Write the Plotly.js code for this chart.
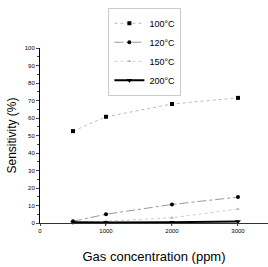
<!DOCTYPE html>
<html><head><meta charset="utf-8">
<script src="https://cdn.plot.ly/plotly-3.0.1.min.js"></script>
<style>html,body{margin:0;padding:0;background:#fff}#c{width:268px;height:267px}</style>
</head><body><div id="c"></div>
<script>
const conc = [500, 1000, 2000, 3000];
const names = ['100°C', '120°C', '150°C', '200°C'];
const s100 = [52.5, 60.7, 68, 71.5];
const s120 = [1, 5, 10.6, 14.8];
const s150 = [0.5, 1, 3, 8];
const s200 = [0.5, 0.3, 0.5, 0.8];
const xTicks = [0, 1000, 2000, 3000];
const yTicks = [0, 10, 20, 30, 40, 50, 60, 70, 80, 90, 100];

const series = [s100, s120, s150, s200];
const styles = [
  {sym: 'square', size: 4, color: '#000', line: {color: '#bbb', width: 1, dash: 'dot'}},
  {sym: 'circle', size: 4, color: '#000', line: {color: '#999', width: 1, dash: 'dashdot'}},
  {sym: 'triangle-up', size: 3, color: '#aaa', line: {color: '#ccc', width: 1, dash: 'dot'}},
  {sym: 'triangle-down', size: 5, color: '#000', line: {color: '#000', width: 2, dash: 'solid'}}
];
const traces = series.map((s, i) => ({
  x: conc, y: s, name: names[i], type: 'scatter', mode: 'lines+markers',
  marker: {symbol: styles[i].sym, size: styles[i].size, color: styles[i].color},
  line: styles[i].line, cliponaxis: false
}));

Plotly.newPlot('c', traces, {
  width: 268, height: 267,
  margin: {l: 40, r: 0, t: 48, b: 44},
  paper_bgcolor: '#fff', plot_bgcolor: '#fff',
  font: {family: 'Liberation Sans, Arial, sans-serif', color: '#000'},
  showlegend: true,
  legend: {x: 0.3, xanchor: 'left', y: 1.23, yanchor: 'top',
    font: {size: 9, family: 'Liberation Sans Narrow, Liberation Sans, Arial'},
    bordercolor: '#ccc', borderwidth: 1, tracegroupgap: 6, itemwidth: 30,
    bgcolor: 'rgba(255,255,255,0)'},
  xaxis: {range: [0, 3455], tickvals: xTicks, ticktext: xTicks.map(String),
    showgrid: false, zeroline: false, showline: true, linecolor: '#333', linewidth: 1,
    ticks: 'outside', ticklen: 2, tickfont: {size: 6},
    title: {text: 'Gas concentration (ppm)', font: {size: 13}, standoff: 18}},
  yaxis: {range: [0, 100], tickvals: yTicks, ticktext: yTicks.map(String),
    showgrid: false, zeroline: false, showline: true, linecolor: '#000', linewidth: 1,
    ticks: 'outside', ticklen: 3, tickfont: {size: 6},
    minor: {dtick: 5, ticks: 'outside', ticklen: 2},
    title: {text: 'Sensitivity (%)', font: {size: 12}, standoff: 5}}
}, {displayModeBar: false, staticPlot: true});
</script></body></html>
